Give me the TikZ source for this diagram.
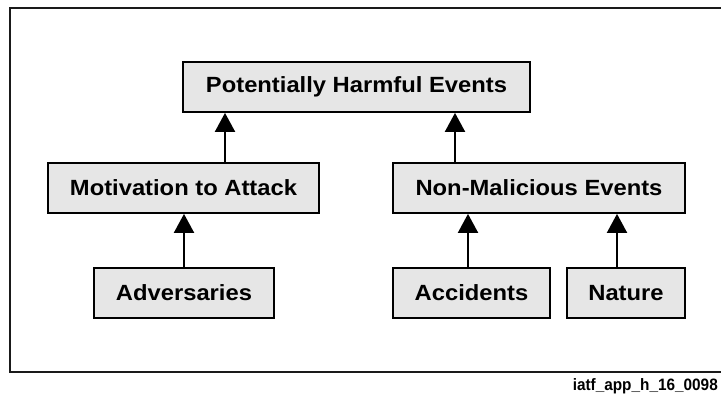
\documentclass[tikz,border=0pt]{standalone}
\usepackage{fontspec}
\setmainfont{Liberation Sans}[FakeStretch=1.08]
\newfontfamily\tagfont{Liberation Sans}[FakeStretch=0.93]
\usetikzlibrary{arrows.meta}

\begin{document}
\begin{tikzpicture}[
    x=1pt, y=-1pt,
    every node/.style={font=\bfseries},
]

% ---------------------------------------------------------------- colours
\definecolor{boxfill}{HTML}{E6E6E6}   % every event box
\definecolor{framecol}{HTML}{1A1A1A}  % the outer frame

% ---------------------------------------------------------------- styles
\tikzset{
    event/.style={
        rectangle, minimum height=50pt, inner sep=0pt,
        draw=black, line width=1.8pt, fill=boxfill,
        font=\fontsize{22}{26}\selectfont\bfseries,
    },
    up/.style={
        -{Triangle[length=19pt, width=20pt]}, line width=2pt, black,
    },
}

% ================================================================
% GEOMETRY (pt, y grows downward)
%   top row      y = 87
%   middle row   y = 188
%   bottom row   y = 293
%   arrow columns x = 184, 225, 455, 468, 617
% ================================================================

\useasboundingbox (0, 0) rectangle (721, 398);

% ---------------------------------------------------------------- frame
% the right edge runs off the page, so only three sides show
\draw[framecol, line width=1.8pt] (721, 8) -- (10, 8) -- (10, 372) -- (721, 372);

% ---------------------------------------------------------------- the events
\node[event, minimum width=347pt] (harm) at (356.5, 87) {Potentially Harmful Events};

\node[event, minimum width=271pt] (motiv) at (183.5, 188) {Motivation to Attack};
\node[event, minimum width=292pt] (nonmal) at (539, 188) {Non-Malicious Events};

\node[event, minimum width=180pt] (adv) at (184, 293) {Adversaries};
\node[event, minimum width=157pt] (acc) at (471.5, 293) {Accidents};
\node[event, minimum width=118pt] (nat) at (626, 293) {Nature};

% ---------------------------------------------------------------- arrows
\coordinate (colA) at (225, 0);
\coordinate (colB) at (455, 0);
\coordinate (colC) at (468, 0);
\coordinate (colD) at (617, 0);

\draw[up] (motiv.north -| colA) -- (harm.south -| colA);
\draw[up] (nonmal.north -| colB) -- (harm.south -| colB);
\draw[up] (adv.north) -- (motiv.south -| adv.north);
\draw[up] (acc.north -| colC) -- (nonmal.south -| colC);
\draw[up] (nat.north -| colD) -- (nonmal.south -| colD);

% ---------------------------------------------------------------- tag
\node[font=\tagfont\fontsize{16.5}{19}\selectfont\bfseries, anchor=base east, inner sep=0pt]
    (tag) at (718, 390) {iatf\_app\_h\_16\_0098};

\end{tikzpicture}
\end{document}
